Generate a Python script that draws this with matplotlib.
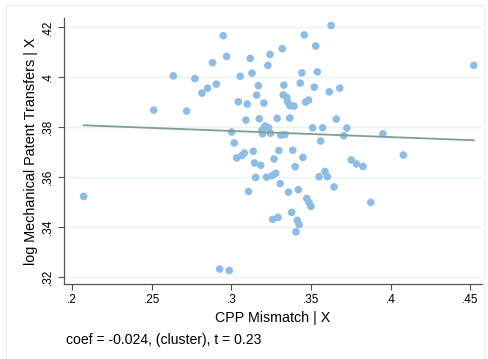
import matplotlib
matplotlib.use('Agg')
from matplotlib import pyplot as plt
from matplotlib.patches import Rectangle

plt.rcParams['font.family'] = ['Liberation Sans', 'DejaVu Sans']

# residualised CPP mismatch (x) and log mechanical patent transfers (y)
cpp_mismatch = [
    0.2513, 0.2636, 0.2720, 0.2772, 0.2816, 0.2851, 0.2882, 0.2906, 0.2949, 0.2971,
    0.3056, 0.3044, 0.3100, 0.3092, 0.3003, 0.3019, 0.3034, 0.3067, 0.3082, 0.3119,
    0.3130, 0.3243, 0.3230, 0.3320, 0.3458, 0.3627, 0.3530, 0.3443, 0.3540, 0.3433,
    0.3521, 0.3615, 0.3681, 0.3170, 0.3159, 0.3205, 0.3330, 0.3326, 0.3348, 0.3354,
    0.3368, 0.3394, 0.3467, 0.3485, 0.3176, 0.3288, 0.3367, 0.3659, 0.3511, 0.3574,
    0.3726, 0.3193, 0.3212, 0.3234, 0.3197, 0.3246, 0.3311, 0.3337, 0.3561, 0.3706,
    0.3952, 0.4522, 0.3138, 0.3299, 0.3386, 0.3268, 0.3450, 0.3146, 0.3185, 0.3401,
    0.3753, 0.3786, 0.3827, 0.4080, 0.3153, 0.3221, 0.3256, 0.3279, 0.3551, 0.3588,
    0.3603, 0.2073, 0.2927, 0.2987, 0.3108, 0.3307, 0.3359, 0.3421, 0.3645, 0.3474,
    0.3488, 0.3500, 0.3876, 0.3379, 0.3260, 0.3293, 0.3414, 0.3426, 0.3406,
]
log_transfers = [
    0.3869, 0.4006, 0.3865, 0.3995, 0.3937, 0.3957, 0.4059, 0.3973, 0.4167, 0.4084,
    0.4005, 0.3902, 0.3893, 0.3829, 0.3781, 0.3737, 0.3677, 0.3687, 0.3697, 0.4076,
    0.4017, 0.4092, 0.4048, 0.4115, 0.4170, 0.4208, 0.4126, 0.4018, 0.4022, 0.3977,
    0.3961, 0.3942, 0.3957, 0.3967, 0.3929, 0.3897, 0.3969, 0.3930, 0.3919, 0.3902,
    0.3887, 0.3885, 0.3901, 0.3909, 0.3834, 0.3836, 0.3837, 0.3833, 0.3798, 0.3798,
    0.3797, 0.3788, 0.3805, 0.3798, 0.3774, 0.3776, 0.3769, 0.3771, 0.3745, 0.3766,
    0.3774, 0.4048, 0.3704, 0.3707, 0.3708, 0.3673, 0.3679, 0.3657, 0.3648, 0.3642,
    0.3669, 0.3653, 0.3643, 0.3689, 0.3599, 0.3600, 0.3606, 0.3616, 0.3602, 0.3623,
    0.3602, 0.3523, 0.3232, 0.3226, 0.3543, 0.3574, 0.3540, 0.3550, 0.3561, 0.3515,
    0.3499, 0.3483, 0.3499, 0.3459, 0.3431, 0.3439, 0.3427, 0.3410, 0.3381,
]

# fitted line endpoints
fit_x = [0.2073, 0.4522]
fit_y = [0.3808, 0.3748]

xticks = [0.2, 0.25, 0.3, 0.35, 0.4, 0.45]
xtick_labels = ['.2', '.25', '.3', '.35', '.4', '.45']
yticks = [0.32, 0.34, 0.36, 0.38, 0.4, 0.42]
ytick_labels = ['.32', '.34', '.36', '.38', '.4', '.42']

fig = plt.figure(figsize=(4.89, 3.59), dpi=100)
fig.patches.append(Rectangle((6 / 489, 0), 478 / 489, 1 - 5 / 359, transform=fig.transFigure,
                             fill=False, edgecolor='#ececec', linewidth=0.8))

ax = fig.add_axes([64 / 489, 1 - 284 / 359, 418 / 489, 266 / 359])
for y in yticks:
    ax.axhline(y, color='#eaf1f1', linewidth=1.0, zorder=0)
ax.scatter(cpp_mismatch, log_transfers, s=30, color='#8dbde6', edgecolors='none', zorder=2)
ax.plot(fit_x, fit_y, color='#7f9e94', linewidth=1.3, zorder=3)

ax.set_xlim(0.195, 0.4574)
ax.set_ylim(0.3172, 0.4238)
ax.set_xticks(xticks)
ax.set_xticklabels(xtick_labels, fontsize=8.5)
ax.set_yticks(yticks)
ax.set_yticklabels(ytick_labels, fontsize=8.5, rotation=90, va='center')
ax.tick_params(direction='out', length=4, width=0.8, color='#555555', pad=3)
for side in ['top', 'right']:
    ax.spines[side].set_visible(False)
for side in ['left', 'bottom']:
    ax.spines[side].set_color('#555555')
    ax.spines[side].set_linewidth(0.9)

ax.set_xlabel('CPP Mismatch | X', fontsize=10.3, labelpad=4)
ax.set_ylabel('log Mechanical Patent Transfers | X', fontsize=10.4, labelpad=3)
fig.text(66 / 489, 1 - 340 / 359, 'coef = -0.024, (cluster), t = 0.23', fontsize=10.1, va='center')

fig.savefig('out.png', dpi=100)
